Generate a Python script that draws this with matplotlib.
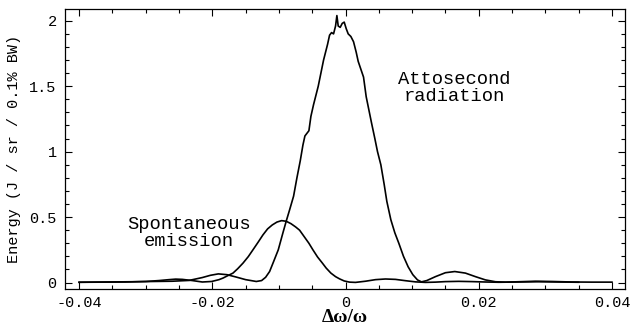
import matplotlib
matplotlib.use("Agg")
import matplotlib.pyplot as plt
from matplotlib.ticker import MultipleLocator

# Attosecond radiation spectrum
atto_x = [-0.040, -0.036, -0.032, -0.029, -0.026, -0.0235, -0.0215, -0.0203,
          -0.0191, -0.0178, -0.0165, -0.0150, -0.0134, -0.0126, -0.0120,
          -0.0114, -0.0108, -0.0101, -0.0094, -0.0089, -0.0084, -0.0078,
          -0.0073, -0.0068, -0.0064, -0.0061, -0.0058, -0.0055, -0.0052,
          -0.0048, -0.0045, -0.0041, -0.0037, -0.0033, -0.0030, -0.0027,
          -0.0024, -0.0021, -0.0018, -0.0015, -0.0013, -0.0011, -0.0008,
          -0.0005, -0.0002, 0.0001, 0.0004, 0.0008, 0.0012, 0.0016, 0.0019,
          0.0023, 0.0027, 0.0031, 0.0035, 0.0039, 0.0044, 0.0048, 0.0053,
          0.0058, 0.0062, 0.0068, 0.0074, 0.0080, 0.0087, 0.0094, 0.0101,
          0.0108, 0.0114, 0.0122, 0.0135, 0.0150, 0.0164, 0.0180, 0.0195,
          0.0210, 0.0225, 0.0240, 0.0260, 0.0285, 0.031, 0.034, 0.037, 0.040]
atto_y = [0.002, 0.004, 0.006, 0.008, 0.010, 0.016, 0.038, 0.055,
          0.066, 0.060, 0.043, 0.022, 0.008, 0.015, 0.040,
          0.084, 0.16, 0.25, 0.38, 0.47, 0.555, 0.66,
          0.80, 0.93, 1.05, 1.12, 1.14, 1.16, 1.27,
          1.36, 1.42, 1.50, 1.60, 1.70, 1.76, 1.82,
          1.89, 1.91, 1.90, 1.96, 2.04, 1.96, 1.95,
          1.98, 1.99, 1.94, 1.90, 1.88, 1.84, 1.76, 1.69,
          1.63, 1.57, 1.42, 1.32, 1.22, 1.10, 1.00, 0.90,
          0.75, 0.62, 0.48, 0.38, 0.30, 0.20, 0.12, 0.06,
          0.02, 0.005, 0.015, 0.045, 0.075, 0.084, 0.072, 0.045,
          0.020, 0.006, 0.003, 0.006, 0.010, 0.008, 0.004, 0.003, 0.003]

# Spontaneous emission spectrum
spont_x = [-0.040, -0.036, -0.033, -0.030, -0.028, -0.0265, -0.0255, -0.0245,
           -0.0230, -0.0215, -0.0201, -0.0190, -0.0184, -0.0177, -0.0169,
           -0.0162, -0.0154, -0.0146, -0.0139, -0.0131, -0.0124, -0.0117,
           -0.0110, -0.0103, -0.0096, -0.0089, -0.0082, -0.0075, -0.0069,
           -0.0062, -0.0055, -0.0049, -0.0042, -0.0035, -0.0029, -0.0022,
           -0.0015, -0.0009, -0.0002, 0.0006, 0.0015, 0.003, 0.0045, 0.006,
           0.0075, 0.009, 0.0105, 0.012, 0.0135, 0.015, 0.017, 0.019, 0.021,
           0.023, 0.026, 0.029, 0.032, 0.035]
spont_y = [0.002, 0.003, 0.004, 0.008, 0.015, 0.022, 0.026, 0.024,
           0.015, 0.004, 0.008, 0.022, 0.034, 0.052, 0.072,
           0.105, 0.148, 0.198, 0.25, 0.31, 0.364, 0.41,
           0.44, 0.462, 0.473, 0.468, 0.45, 0.425, 0.40,
           0.35, 0.30, 0.25, 0.195, 0.15, 0.11, 0.072,
           0.045, 0.028, 0.012, 0.003, 0.001, 0.010, 0.022, 0.027,
           0.024, 0.014, 0.005, 0.001, 0.003, 0.007, 0.009, 0.007, 0.004,
           0.002, 0.004, 0.006, 0.004, 0.002]

mono = "Liberation Mono"

fig = plt.figure(figsize=(6.31, 3.27), dpi=100)
ax = fig.add_axes([0.103, 0.116, 0.887, 0.856])

ax.plot(atto_x, atto_y, color="black", lw=1.2)
ax.plot(spont_x, spont_y, color="black", lw=1.2)

ax.set_xlim(-0.04212, 0.04191)
ax.set_ylim(-0.050, 2.089)

ax.xaxis.set_major_locator(MultipleLocator(0.02))
ax.xaxis.set_minor_locator(MultipleLocator(0.005))
ax.yaxis.set_major_locator(MultipleLocator(0.5))
ax.yaxis.set_minor_locator(MultipleLocator(0.1))
ax.set_xticks([-0.04, -0.02, 0, 0.02, 0.04])
ax.set_xticklabels(["-0.04", "-0.02", "0", "0.02", "0.04"])
ax.set_yticks([0, 0.5, 1, 1.5, 2])
ax.set_yticklabels(["0", "0.5", "1", "1.5", "2"])

ax.tick_params(which="both", direction="in", top=True, right=True, width=0.8)
ax.tick_params(which="major", length=5, labelsize=11, pad=6)
ax.tick_params(axis="x", which="major", pad=5)
ax.tick_params(which="minor", length=2.7)
for lab in ax.get_xticklabels() + ax.get_yticklabels():
    lab.set_family(mono)
for s in ax.spines.values():
    s.set_linewidth(0.9)

ax.set_ylabel("Energy (J / sr / 0.1% BW)", family=mono, fontsize=11, labelpad=6)
ax.set_xlabel("Δω/ω", family="Liberation Serif", fontsize=14,
              fontweight="bold", labelpad=-1)

ax.text(0.0163, 1.49, "Attosecond\nradiation", family=mono, fontsize=13.5,
        ha="center", va="center", linespacing=1.0)
ax.text(-0.0235, 0.38, "Spontaneous\nemission", family=mono, fontsize=13.5,
        ha="center", va="center", linespacing=1.0)

fig.savefig("out.png", dpi=100)
